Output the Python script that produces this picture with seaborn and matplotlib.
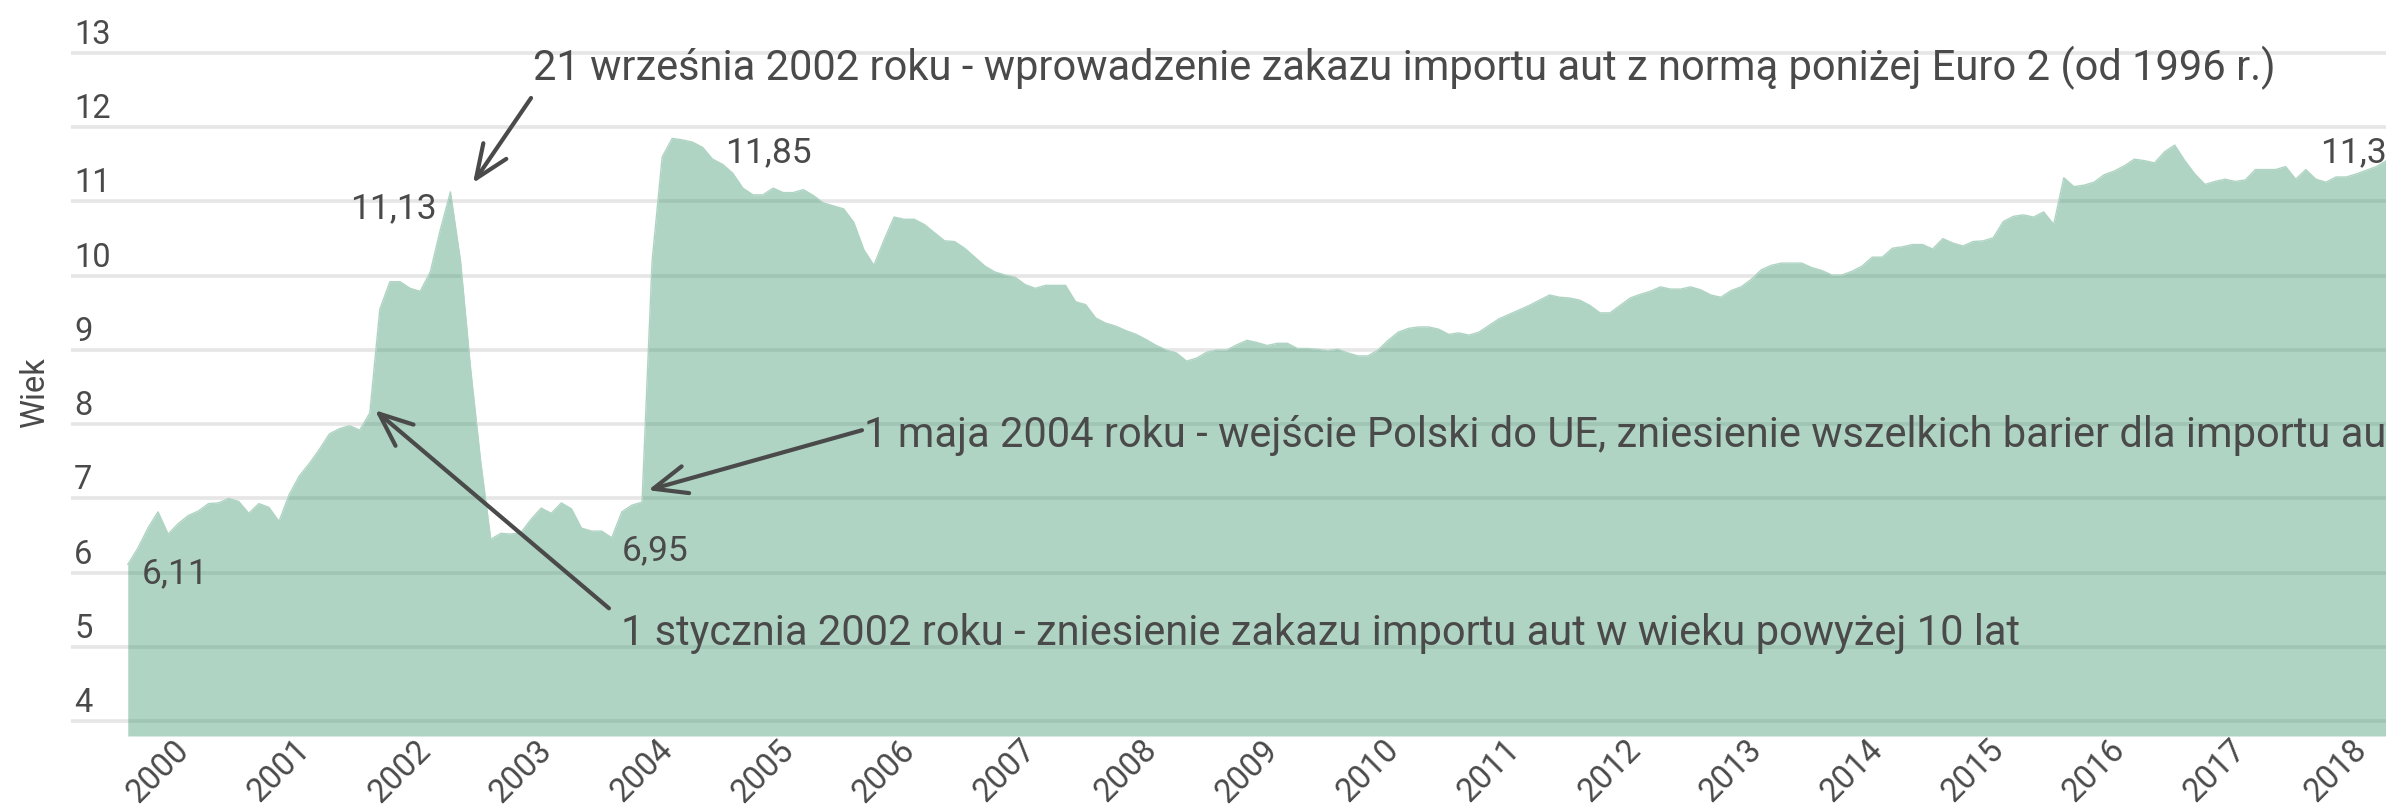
import numpy as np
import pandas as pd
import matplotlib
matplotlib.use("Agg")
import matplotlib.pyplot as plt
import matplotlib.transforms as mtrans
import seaborn as sns

# średni wiek sprowadzanych aut, dane miesięczne od 10.1999 (odczyt z wykresu)
wiek = [
    6.11, 6.33, 6.60, 6.82, 6.52, 6.66, 6.77, 6.83, 6.93, 6.94,
    7.00, 6.96, 6.80, 6.93, 6.88, 6.69, 7.05, 7.30, 7.47, 7.66,
    7.87, 7.94, 7.98, 7.92, 8.15, 9.55, 9.92, 9.92, 9.83, 9.79,
    10.05, 10.62, 11.13, 10.20, 8.75, 7.50, 6.45, 6.53, 6.52, 6.54,
    6.72, 6.87, 6.80, 6.94, 6.86, 6.60, 6.56, 6.56, 6.47, 6.82,
    6.91, 6.95, 10.20, 11.60, 11.85, 11.83, 11.80, 11.73, 11.57, 11.50,
    11.38, 11.18, 11.09, 11.09, 11.18, 11.12, 11.12, 11.16, 11.08, 10.98,
    10.94, 10.90, 10.72, 10.35, 10.14, 10.48, 10.79, 10.76, 10.76, 10.69,
    10.58, 10.47, 10.46, 10.37, 10.25, 10.13, 10.05, 10.01, 9.98, 9.88,
    9.83, 9.87, 9.87, 9.87, 9.65, 9.61, 9.43, 9.36, 9.32, 9.26,
    9.21, 9.14, 9.06, 9.00, 8.96, 8.85, 8.89, 8.97, 9.00, 9.00,
    9.07, 9.13, 9.10, 9.06, 9.09, 9.09, 9.02, 9.02, 9.01, 8.99,
    9.01, 8.96, 8.92, 8.92, 9.00, 9.13, 9.24, 9.29, 9.31, 9.31,
    9.28, 9.21, 9.23, 9.20, 9.24, 9.33, 9.42, 9.48, 9.54, 9.60,
    9.67, 9.74, 9.71, 9.70, 9.67, 9.60, 9.50, 9.50, 9.60, 9.70,
    9.75, 9.79, 9.85, 9.82, 9.82, 9.85, 9.81, 9.74, 9.71, 9.80,
    9.85, 9.95, 10.08, 10.14, 10.17, 10.17, 10.17, 10.11, 10.07, 10.01,
    10.01, 10.06, 10.13, 10.25, 10.25, 10.37, 10.39, 10.42, 10.42, 10.36,
    10.50, 10.44, 10.40, 10.46, 10.47, 10.51, 10.73, 10.80, 10.82, 10.79,
    10.86, 10.69, 11.32, 11.20, 11.22, 11.26, 11.36, 11.41, 11.48, 11.57,
    11.55, 11.52, 11.67, 11.76, 11.55, 11.37, 11.23, 11.27, 11.30, 11.27,
    11.29, 11.43, 11.43, 11.43, 11.47, 11.30, 11.43, 11.30, 11.26, 11.33,
    11.33, 11.37, 11.42, 11.47, 11.55, 11.63,
]
pierwszy_miesiac = "1999-10"
lata = list(range(2000, 2019))
y_ticks = list(range(4, 14))

etykiety = ["6,11", "11,13", "6,95", "11,85", "11,36"]
opis_2002_wrzesien = "21 września 2002 roku - wprowadzenie zakazu importu aut z normą poniżej Euro 2 (od 1996 r.)"
opis_2002_styczen = "1 stycznia 2002 roku - zniesienie zakazu importu aut w wieku powyżej 10 lat"
opis_2004 = "1 maja 2004 roku - wejście Polski do UE, zniesienie wszelkich barier dla importu aut"

# dane do ramki
miesiace = pd.date_range(pierwszy_miesiac, periods=len(wiek), freq="MS")
df = pd.DataFrame({"data": miesiace.year + (miesiace.month - 1) / 12, "wiek": wiek})

sns.set_theme(style="white")
plt.rcParams["font.family"] = ["Roboto", "DejaVu Sans"]

txt = "#4a4a4a"
W, H = 2386, 806
fig = plt.figure(figsize=(W / 100, H / 100), dpi=100)
ax = fig.add_axes([71 / W, 1 - 736 / H, 1 - 71 / W, 736 / H])

ax.fill_between(df["data"], 3.8, df["wiek"], color="#3a946c", alpha=0.4, lw=0, zorder=2)
sns.lineplot(data=df, x="data", y="wiek", color="#b0d4c4", lw=1, ax=ax, zorder=3)

ax.set_xlim(1999.281, 2018.413)
ax.set_ylim(3.8, 13.714)
ax.set_xlabel("")
ax.set_ylabel("Wiek", fontsize=23.5, color=txt)
ax.yaxis.set_label_coords(-0.0086, 0.467)

ax.set_yticks(y_ticks)
ax.set_yticklabels([str(v) for v in y_ticks])
ax.set_xticks(lata)
ax.set_xticklabels([str(r) for r in lata], rotation=45)
ax.grid(axis="y", color="#e6e6e6", lw=2.6)
ax.grid(axis="x", visible=False)
ax.set_axisbelow(True)
for s in ax.spines.values():
    s.set_visible(False)
ax.tick_params(axis="both", length=0, labelsize=23.5, labelcolor=txt)
ax.tick_params(axis="y", pad=-2.2)
ax.tick_params(axis="x", pad=-1.5)

przesun = mtrans.ScaledTranslation(0, 9 / 100, fig.dpi_scale_trans)
for lab in ax.get_yticklabels():
    lab.set_horizontalalignment("left")
    lab.set_verticalalignment("baseline")
    lab.set_transform(lab.get_transform() + przesun)

# etykiety wartości
fs_lab = 25.5
ax.text(1999.868, 5.857, etykiety[0], fontsize=fs_lab, color=txt, ha="left", va="baseline")
ax.text(2002.306, 10.776, etykiety[1], fontsize=fs_lab, color=txt, ha="right", va="baseline")
ax.text(2003.835, 6.167, etykiety[2], fontsize=fs_lab, color=txt, ha="left", va="baseline")
ax.text(2004.686, 11.531, etykiety[3], fontsize=fs_lab, color=txt, ha="left", va="baseline")
ax.text(2017.868, 11.531, etykiety[4], fontsize=fs_lab, color=txt, ha="left", va="baseline")

# adnotacje ze strzałkami
strzalka = dict(arrowstyle="->,head_length=0.6,head_width=0.25", color=txt, lw=3,
                mutation_scale=40, shrinkA=0, shrinkB=0)
ax.annotate("", xy=(2002.603, 11.248), xytext=(2003.083, 12.394), arrowprops=strzalka)
ax.annotate("", xy=(2001.793, 8.189), xytext=(2003.727, 5.52), arrowprops=strzalka)
ax.annotate("", xy=(2004.05, 7.111), xytext=(2005.818, 7.919), arrowprops=strzalka)

ax.text(2003.099, 12.636, opis_2002_wrzesien, fontsize=30, color=txt, ha="left", va="baseline")
ax.text(2003.826, 5.02, opis_2002_styczen, fontsize=30, color=txt, ha="left", va="baseline")
ax.text(2005.835, 7.69, opis_2004, fontsize=30, color=txt, ha="left", va="baseline")

fig.savefig("out.png", dpi=100)
